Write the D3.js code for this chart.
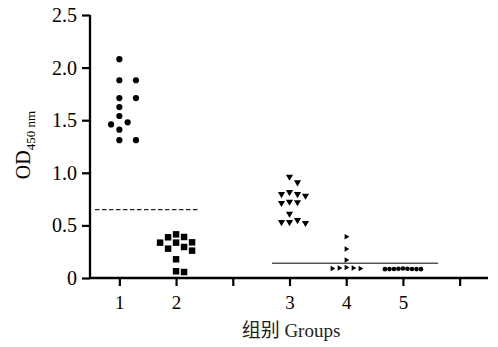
<!DOCTYPE html>
<html><head><meta charset="utf-8">
<script src="https://cdn.jsdelivr.net/npm/d3@7"></script>
<style>body{margin:0;background:#fff}svg{display:block}</style>
</head><body>
<svg id="c" width="498" height="347"></svg>
<script>
// ---- data ----
const tickLabels = ["1", "2", "", "3", "4", "5", ""];
const groupPositions = [1, 2, 4, 5, 6];
const group1 = [2.08, 1.88, 1.88, 1.71, 1.71, 1.625, 1.54, 1.48, 1.46, 1.41, 1.31, 1.31];
const group2 = [0.415, 0.39, 0.387, 0.339, 0.336, 0.336, 0.295, 0.279, 0.26, 0.178, 0.064, 0.057];
const group3 = [0.963, 0.91, 0.817, 0.798, 0.798, 0.782, 0.725, 0.72, 0.713, 0.611, 0.551, 0.532, 0.532, 0.523];
const group4 = [0.393, 0.276, 0.171, 0.10, 0.095, 0.095, 0.09, 0.09];
const group5 = [0.09, 0.088, 0.088, 0.086, 0.086, 0.085, 0.085, 0.084, 0.084];
const yTicks = [0, 0.5, 1.0, 1.5, 2.0, 2.5];
const cutoffDashed = {value: 0.65, from: 0.57, to: 2.39};
const cutoffSolid = {value: 0.14, from: 3.69, to: 6.62};

// ---- layout ----
const svg = d3.select("#c");
const x = d3.scaleLinear().domain([0.5, 7.5]).range([91, 488]);
const y = d3.scaleLinear().domain([0, 2.5]).range([278, 15]);
const serif = "'Liberation Serif','Times New Roman',serif";

// y axis
const yAxis = svg.append("g").attr("transform", "translate(90,0)")
  .call(d3.axisLeft(y).tickValues(yTicks).tickSize(8).tickPadding(5)
    .tickFormat(d => d === 0 ? "0" : d3.format(".1f")(d)));
yAxis.select(".domain").attr("stroke-width", 2.3).attr("d", `M0,${y(2.5)}V${y(0)}`);
yAxis.selectAll(".tick line").attr("stroke-width", 2.2);
yAxis.selectAll("text").attr("font-family", serif).attr("font-size", 20).attr("fill", "#000");

// x axis
const xAxis = svg.append("g").attr("transform", `translate(0,${y(0)})`)
  .call(d3.axisBottom(x).tickValues(d3.range(1, 8)).tickSize(8).tickPadding(10)
    .tickFormat((d, i) => tickLabels[i]));
xAxis.select(".domain").attr("stroke-width", 2.3).attr("d", `M${x(0.5)-1},0H${x(7.5)}`);
xAxis.selectAll(".tick line").attr("stroke-width", 2.2);
xAxis.selectAll("text").attr("font-family", serif).attr("font-size", 19).attr("fill", "#000");

// axis titles
svg.append("text").attr("x", 291).attr("y", 337).attr("text-anchor", "middle")
  .attr("font-family", serif + ",'Noto Sans CJK SC'").attr("font-size", 19).attr("fill", "#222")
  .text("组别 Groups");
const yl = svg.append("text").attr("transform", "translate(30,145) rotate(-90)")
  .attr("text-anchor", "middle").attr("font-family", serif).attr("fill", "#000");
yl.append("tspan").attr("font-size", 20).text("OD");
yl.append("tspan").attr("font-size", 13).attr("dy", 5).text("450 nm");

// cutoff lines
svg.append("line").attr("x1", x(cutoffDashed.from)).attr("x2", x(cutoffDashed.to))
  .attr("y1", y(cutoffDashed.value)).attr("y2", y(cutoffDashed.value))
  .attr("stroke", "#222").attr("stroke-width", 1.3).attr("stroke-dasharray", "4.5,2.5");
svg.append("line").attr("x1", x(cutoffSolid.from)).attr("x2", x(cutoffSolid.to))
  .attr("y1", y(cutoffSolid.value)).attr("y2", y(cutoffSolid.value))
  .attr("stroke", "#555").attr("stroke-width", 1.3);

// beeswarm layout
function swarm(values, cx, lane, minDist) {
  const placed = [];
  values.forEach(v => {
    const py = y(v);
    for (let k = 0; k < 40; k++) {
      const off = k === 0 ? 0 : (k % 2 ? (k + 1) / 2 : -k / 2);
      const px = cx + off * lane;
      if (placed.every(p => Math.hypot(p.x - px, p.y - py) >= minDist - 1e-6)) {
        placed.push({x: px, y: py, v}); break;
      }
    }
  });
  return placed;
}

const groups = [
  {vals: group1, sym: d3.symbolCircle, size: 30, lane: 8.3, min: 8.5, rot: 0},
  {vals: group2, sym: d3.symbolSquare, size: 42, lane: 8, min: 8, rot: 0},
  {vals: group3, sym: d3.symbolTriangle, size: 22, lane: 8, min: 8, rot: 180},
  {vals: group4, sym: d3.symbolTriangle, size: 13, lane: 7, min: 6, rot: 90},
  {vals: group5, sym: d3.symbolCircle, size: 17, lane: 4.5, min: 4.5, rot: 0}
];
groups.forEach((g, i) => {
  const pts = swarm(g.vals, x(groupPositions[i]), g.lane, g.min);
  svg.append("g").selectAll("path").data(pts).join("path")
    .attr("d", d3.symbol(g.sym, g.size))
    .attr("transform", d => `translate(${d.x},${d.y}) rotate(${g.rot})`)
    .attr("fill", "#000");
});
</script>
</body></html>
